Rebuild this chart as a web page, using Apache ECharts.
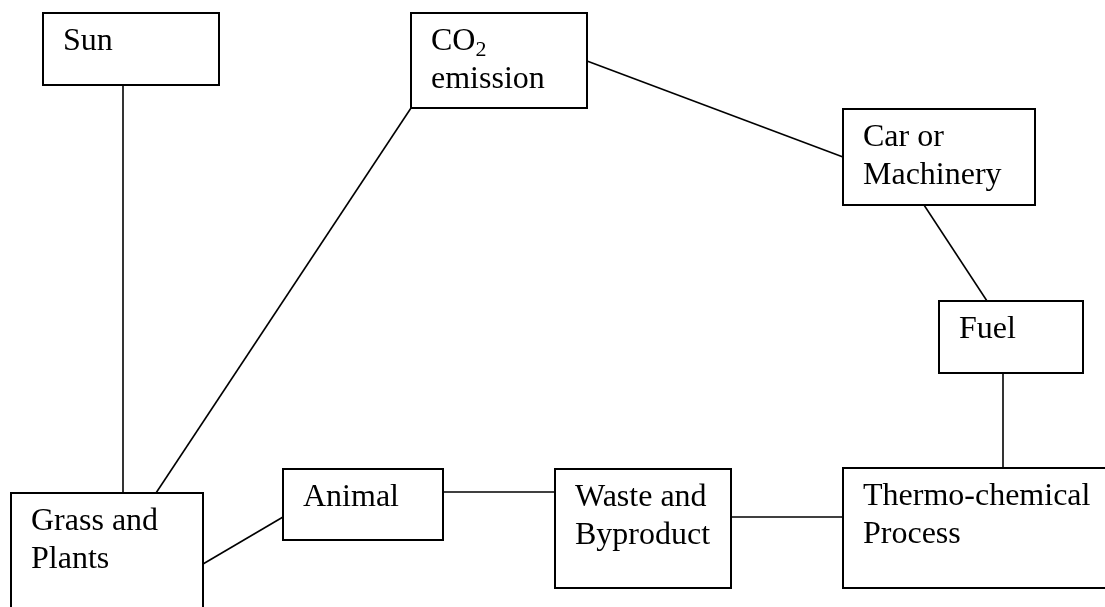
<!DOCTYPE html>
<html>
<head>
<meta charset="utf-8">
<script src="https://cdn.jsdelivr.net/npm/echarts@6/dist/echarts.min.js"></script>
<style>
  html, body { margin: 0; padding: 0; background: #fff; }
  #diagram { width: 1105px; height: 607px; }
</style>
</head>
<body>
<div id="diagram"></div>
<script>
// boxes of the cycle (pixel-like units, y grows downward)
var nodeLabels = ['Sun', 'CO{s|2}\nemission', 'Car or\nMachinery', 'Fuel',
                  'Grass and\nPlants', 'Animal', 'Waste and\nByproduct', 'Thermo-chemical\nProcess'];
var nodeLeft   = [43, 411, 843, 939, 11, 283, 555, 843];
var nodeTop    = [13, 13, 109, 301, 493, 469, 469, 468];
var nodeRight  = [219, 587, 1035, 1083, 203, 443, 731, 1125];
var nodeBottom = [85, 108, 205, 373, 625, 540, 588, 588];

// connectors between boxes
var linkX0 = [123, 411, 587, 924, 1003, 203, 443, 731];
var linkY0 = [85, 108, 61, 205, 373, 564, 492, 517];
var linkX1 = [123, 156, 843, 987, 1003, 283, 555, 843];
var linkY1 = [493, 493, 157, 301, 468, 517, 492, 517];

var serif = '"Liberation Serif", "Times New Roman", serif';

var boxData = [];
for (var i = 0; i < nodeLabels.length; i++) {
    boxData.push([nodeLeft[i], nodeTop[i], nodeRight[i], nodeBottom[i], i]);
}
var linkData = [];
for (var j = 0; j < linkX0.length; j++) {
    linkData.push({ coords: [[linkX0[j], linkY0[j]], [linkX1[j], linkY1[j]]] });
}

var myChart = echarts.init(document.getElementById('diagram'));
var option = {
    animation: false,
    grid: { left: 0, right: 0, top: 0, bottom: 0 },
    xAxis: { type: 'value', min: 0, max: 1105, show: false },
    yAxis: { type: 'value', min: 0, max: 607, inverse: true, show: false },
    series: [
        {
            type: 'lines',
            coordinateSystem: 'cartesian2d',
            data: linkData,
            silent: true,
            lineStyle: { color: '#000', width: 1.6, opacity: 1, curveness: 0 }
        },
        {
            type: 'custom',
            coordinateSystem: 'cartesian2d',
            clip: false,
            data: boxData,
            silent: true,
            renderItem: function (params, api) {
                var p0 = api.coord([api.value(0), api.value(1)]);
                var p1 = api.coord([api.value(2), api.value(3)]);
                var idx = api.value(4);
                return {
                    type: 'group',
                    children: [
                        {
                            type: 'rect',
                            shape: { x: p0[0], y: p0[1], width: p1[0] - p0[0], height: p1[1] - p0[1] },
                            style: { fill: '#fff', stroke: '#000', lineWidth: 2 }
                        },
                        {
                            type: 'text',
                            style: {
                                text: nodeLabels[idx],
                                x: p0[0] + 20,
                                y: p0[1] + 10,
                                fill: '#000',
                                fontSize: 32,
                                fontFamily: serif,
                                lineHeight: 38,
                                align: 'left',
                                verticalAlign: 'top',
                                rich: {
                                    // subscript "2" of CO2
                                    s: { fontSize: 22, fontFamily: serif, fill: '#000', lineHeight: 13, verticalAlign: 'bottom' }
                                }
                            }
                        }
                    ]
                };
            }
        }
    ]
};
myChart.setOption(option);
window.addEventListener('resize', function () {
    myChart.resize();
});
</script>
</body>
</html>
